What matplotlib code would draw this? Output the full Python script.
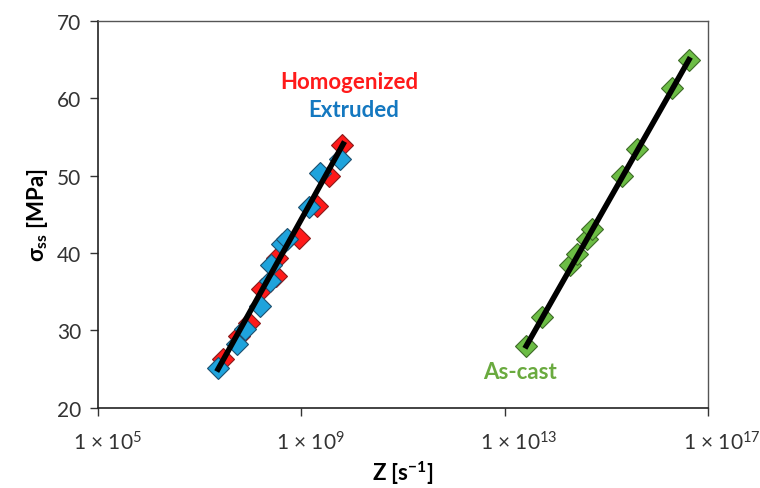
import numpy as np
import matplotlib
matplotlib.use("Agg")
import matplotlib.pyplot as plt
from matplotlib.ticker import FixedLocator, NullLocator
from matplotlib.transforms import ScaledTranslation

plt.rcParams['font.family'] = ['Lato', 'DejaVu Sans']
plt.rcParams['mathtext.fontset'] = 'custom'
plt.rcParams['mathtext.rm'] = 'Lato'
plt.rcParams['mathtext.it'] = 'Lato:italic'
plt.rcParams['mathtext.bf'] = 'Lato:bold'

# log10(Z) and steady-state stress values
homog_logz = [7.45, 7.78, 7.97, 8.22, 8.50, 8.52, 8.95, 9.30, 9.55, 9.80]
homog_sig = [26.3, 29.3, 31.0, 35.3, 37.1, 39.3, 42.0, 46.1, 50.0, 54.0]

extr_logz = [7.36, 7.73, 7.89, 8.19, 8.38, 8.41, 8.61, 8.71, 9.14, 9.37, 9.76]
extr_sig = [25.2, 28.3, 30.2, 33.2, 36.4, 38.4, 41.2, 41.8, 45.9, 50.4, 52.2]

cast_logz = [13.42, 13.72, 14.28, 14.41, 14.61, 14.71, 15.30, 15.59, 16.28, 16.62]
cast_sig = [28.0, 31.7, 38.4, 39.9, 41.8, 43.1, 50.0, 53.5, 61.4, 64.9]

# fitted lines (endpoints)
fit1_logz = [7.36, 9.82]
fit1_sig = [25.0, 54.1]
fit2_logz = [13.42, 16.62]
fit2_sig = [28.0, 65.0]

xticks = [5, 9, 13, 17]
yticks = [20, 30, 40, 50, 60, 70]

fig = plt.figure(figsize=(7.6, 4.89), dpi=100)
ax = fig.add_axes([0.129, 0.164, 0.803, 0.791])

ms = 11.5
ax.plot(10.0 ** np.array(homog_logz), homog_sig, 'D', ms=ms,
        mfc='#ff1a1a', mec='#8a1a1a', mew=0.8, zorder=3)
ax.plot(10.0 ** np.array(extr_logz), extr_sig, 'D', ms=ms,
        mfc='#1fa3dc', mec='#1d4f6e', mew=0.8, zorder=4)
ax.plot(10.0 ** np.array(cast_logz), cast_sig, 'D', ms=ms,
        mfc='#6cbd45', mec='#3d6b26', mew=0.8, zorder=3)

ax.plot(10.0 ** np.array(fit1_logz), fit1_sig, color='black', lw=4, zorder=5)
ax.plot(10.0 ** np.array(fit2_logz), fit2_sig, color='black', lw=4, zorder=5)

ax.set_xscale('log')
ax.set_xlim(1e5, 1e17)
ax.set_ylim(20, 70)
ax.xaxis.set_major_locator(FixedLocator([10.0 ** e for e in xticks]))
ax.xaxis.set_minor_locator(NullLocator())
ax.set_xticklabels(['1 × 10$^{%d}$' % e for e in xticks])
ax.set_yticks(yticks)

ax.tick_params(direction='out', length=6, width=1, labelsize=15, colors='#333333', pad=6)
ax.tick_params(axis='x', pad=10)
# Excel-style: labels start a little left of the tick rather than centred
shift = ScaledTranslation(-0.25, 0, fig.dpi_scale_trans)
for lab in ax.get_xticklabels():
    lab.set_horizontalalignment('left')
    lab.set_transform(lab.get_transform() + shift)

for s in ['left', 'bottom']:
    ax.spines[s].set_color('#222222')
    ax.spines[s].set_linewidth(1.2)
for s in ['top', 'right']:
    ax.spines[s].set_color('#555555')
    ax.spines[s].set_linewidth(1.0)

ax.set_xlabel(r'Z [s$^{\mathbf{-1}}$]', fontsize=16, fontweight='bold', labelpad=4)
ax.set_ylabel(r'$\mathbf{\sigma_{ss}}$ [MPa]', fontsize=16, fontweight='bold', labelpad=5)

ax.text(10 ** 9.94, 62.2, 'Homogenized', color='#ff1a1a', fontsize=16,
        fontweight='bold', ha='center', va='center')
ax.text(10 ** 10.03, 58.5, 'Extruded', color='#1478c0', fontsize=16,
        fontweight='bold', ha='center', va='center')
ax.text(10 ** 13.3, 24.65, 'As-cast', color='#6aaa3f', fontsize=16,
        fontweight='bold', ha='center', va='center')

fig.savefig('out.png', dpi=100)
